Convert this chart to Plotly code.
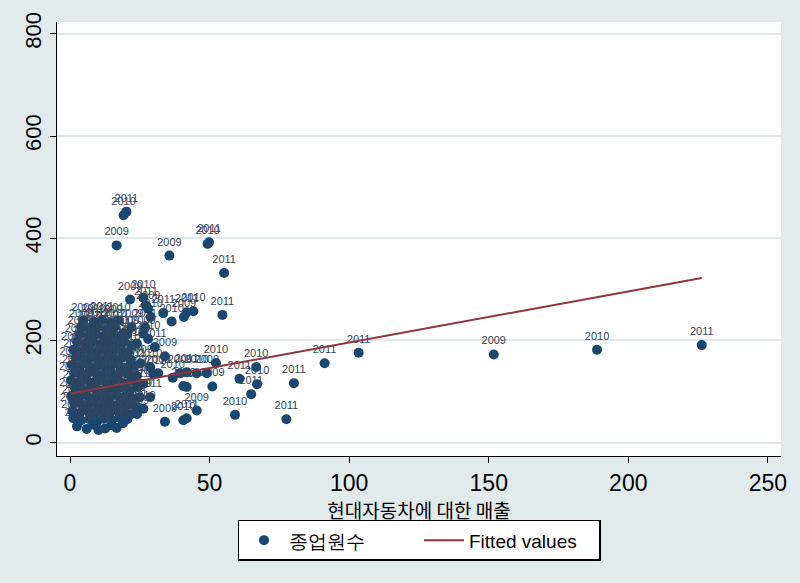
import plotly.graph_objects as go

# ---------------- data ----------------
# 종업원수 (employees) vs 현대자동차에 대한 매출 (sales to Hyundai), per year
x2009 = [2.5, 10.2, 16.7, 1.2, 9.8, 17.8, 0.8, 8.8, 16.5, 1.5, 10, 18,
         0.5, 8.5, 16.8, 25, 1.8, 10.2, 18.6, 0.4, 8.8, 17.2, 26.2,
         1.5, 9.8, 18.2, 0.6, 9, 17.4, 25.3, 2, 10.4, 18.8, 1.2, 9.6, 18,
         2.5, 11, 19.4, 3.5, 12.1, 20.5, 4, 13, 22, 4.8, 14.5,
         21.5, 28, 40.8, 26.3, 34, 31.6, 39.4, 49, 45.4, 34, 24,
         16.7, 35.6, 51, 151.8]
y2009 = [32, 25, 29, 48, 42, 49, 62, 57, 63, 77, 74, 78,
         92, 87, 93, 89, 107, 102, 108, 122, 117, 123, 115,
         137, 132, 138, 152, 147, 153, 155, 167, 162, 168, 182, 177, 183,
         197, 192, 198, 212, 207, 213, 227, 222, 226, 239, 235,
         280, 262, 246, 213, 169, 136, 136, 136, 63, 41, 56,
         386, 366, 110, 172.6]

x2010 = [6, 12.6, 19, 4, 12, 20.5, 3.5, 11.5, 19.2, 4.5, 12.8, 20.8,
         3, 11.2, 19.5, 4.6, 13, 21.4, 3.2, 11.6, 20,
         4.2, 12.6, 21, 3.4, 11.8, 20.2, 4.8, 13.2, 21.6, 4, 12.4, 20.8,
         5.4, 13.8, 22.2, 6.5, 14.9, 7, 16, 8.5, 17.3,
         26.3, 28.9, 36.4, 44.2, 28, 28.7, 36.8, 45.4, 40.6, 40.6, 26.3,
         19.2, 49.3, 52.3, 66.7, 67, 59.1, 188.8]
y2010 = [27, 28, 38, 44, 47, 46, 58, 61, 60, 73, 76, 74,
         88, 91, 89, 103, 106, 101, 118, 121, 116,
         133, 136, 134, 148, 151, 146, 163, 166, 162, 178, 181, 177,
         193, 196, 190, 208, 211, 223, 226, 236, 239,
         283.5, 246, 237, 257, 203, 148, 127, 136, 111, 44, 66.5,
         445, 389, 156, 148, 114.5, 54.5, 181.7]

x2011 = [8.5, 14.8, 7, 15, 6.2, 14, 21.5, 7.2, 15.5, 23.5,
         5.8, 14, 22.3, 7.4, 15.8, 24.2, 6, 14.4, 22.8,
         7, 15.4, 23.8, 6.2, 14.6, 23, 7.6, 16, 6.8, 15.2, 23.9,
         8.2, 16.6, 9.3, 17.7, 10, 19.1, 11.5,
         27.2, 33.4, 41.8, 26.9, 30.4, 29.8, 41.8, 41.8, 41.8, 28.7,
         20.2, 49.8, 55.2, 54.6, 60.7, 64.9, 80.2, 77.5, 91.2, 103.4, 226.3]
y2011 = [35, 34, 46, 45, 63, 58, 55, 78, 72, 70,
         93, 88, 86, 108, 104, 109, 123, 118, 121,
         138, 133, 131, 153, 148, 150, 168, 163, 183, 178, 194,
         198, 193, 213, 208, 228, 213, 240,
         268.5, 253.5, 255, 226, 187, 135, 138, 109, 48, 89,
         452, 392, 332, 250, 125, 95, 116.5, 46, 155.6, 176, 190.9]

years = ["2009", "2010", "2011"]

# linear fit shown as "Fitted values" (coefficients)
fit_intercept = 96.0
fit_slope = 1.0

x_ticks = [0, 50, 100, 150, 200, 250]
y_ticks = [0, 200, 400, 600, 800]
x_title = "현대자동차에 대한 매출"

# ---------------- figure ----------------
xs = x2009 + x2010 + x2011
ys = y2009 + y2010 + y2011
labels = [years[0]] * len(x2009) + [years[1]] * len(x2010) + [years[2]] * len(x2011)

NAVY = "#1a476f"
MAROON = "#90353b"
BG = "#e3eaec"
FONT = "Liberation Sans Narrow, Liberation Sans, Arial, sans-serif"

fig = go.Figure()
fig.add_trace(go.Scatter(
    x=xs, y=ys, mode="markers+text", text=labels,
    textposition="top center",
    textfont=dict(family="Liberation Sans, Arial, sans-serif", size=11, color="#34455e"),
    marker=dict(color=NAVY, size=10, line=dict(width=0)),
    name="종업원수",
))
xmin, xmax = min(xs), max(xs)
fig.add_trace(go.Scatter(
    x=[xmin, xmax],
    y=[fit_intercept + fit_slope * xmin, fit_intercept + fit_slope * xmax],
    mode="lines", line=dict(color=MAROON, width=2),
    name="Fitted values",
))

# the page keeps its default 8px body margin, so the figure is 8px smaller
fig.update_layout(
    width=792, height=575,
    paper_bgcolor=BG, plot_bgcolor="white",
    margin=dict(l=49, r=19, t=14, b=127, autoexpand=False),
    showlegend=True,
    legend=dict(
        orientation="h", x=0.5, xanchor="center", y=-0.147, yanchor="top",
        bgcolor="white", bordercolor="black", borderwidth=1.5,
        font=dict(family="Liberation Sans, Arial, sans-serif", size=19, color="black"),
        entrywidth=125, itemwidth=40,
    ),
    font=dict(family=FONT, color="black"),
)
fig.update_xaxes(
    range=[-4.66, 254.7], tickvals=x_ticks, automargin=False,
    showline=True, linecolor="black", linewidth=1.3,
    ticks="outside", ticklen=6, tickcolor="black", tickwidth=1.3,
    tickfont=dict(family=FONT, size=23, color="black"),
    showgrid=False, zeroline=False,
    title=dict(text=x_title,
               font=dict(family="Noto Sans CJK KR", size=19, color="black"),
               standoff=2),
)
fig.update_yaxes(
    range=[-26, 823], tickvals=y_ticks, tickangle=-90, automargin=False,
    showline=True, linecolor="black", linewidth=1.3,
    ticks="outside", ticklen=6, tickcolor="black", tickwidth=1.3,
    tickfont=dict(family=FONT, size=22, color="black"),
    showgrid=True, gridcolor="#e0e8ea", gridwidth=1.5, zeroline=False,
)

fig.write_html("out.html", config={"displayModeBar": False, "responsive": False},
               post_script="document.body.style.background='#e3eaec';")
